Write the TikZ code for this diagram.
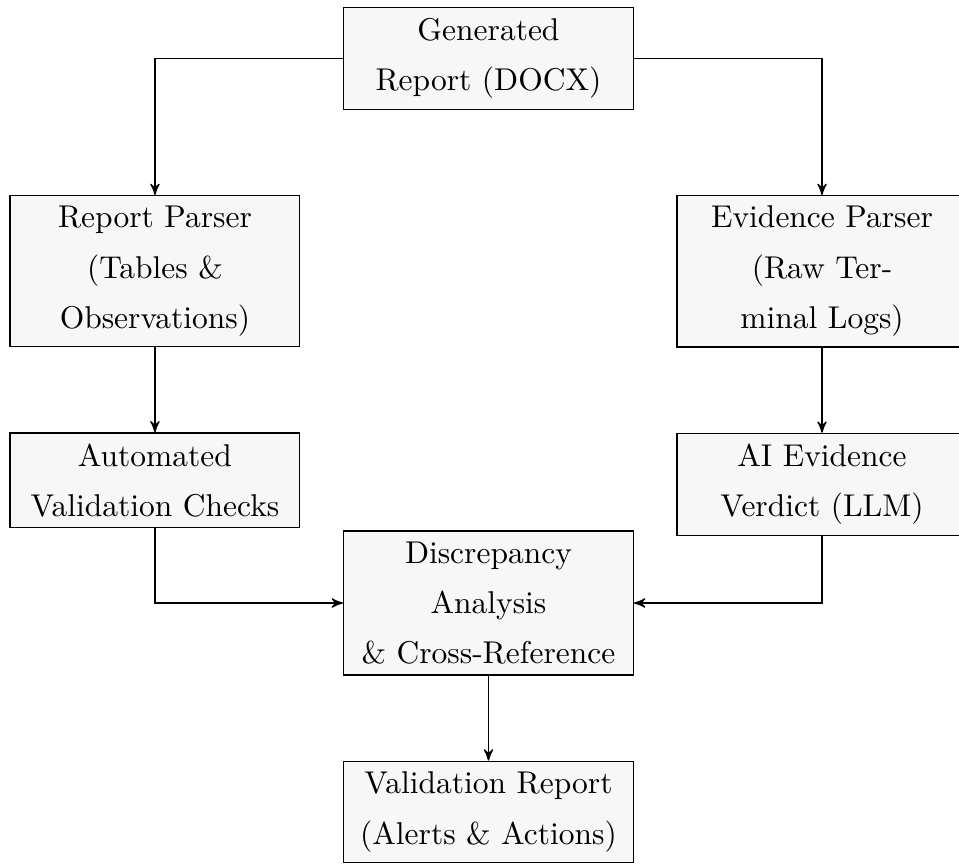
\documentclass[tikz,border=0pt]{standalone}
\usepackage{tikz}
\usetikzlibrary{positioning,arrows}

\begin{document}
\begin{tikzpicture}[thin,
		node distance=27pt and 105.9pt,>=stealth',
		block/.style={rectangle,draw,fill=gray!6,text width=3cm,align=center,
			font=\linespread{1.333}\selectfont}]
   \useasboundingbox (-155.1pt,18.6pt) rectangle (149.4pt,-255.6pt);
   \node [block] (gen)					{Generated\\Report (DOCX)};
   \node [block] (rp)	[below=of gen,xshift=-105.9pt]	{Report Parser (Tables \& Observations)};
   \node [block] (ep)	[below=of gen,xshift=105.9pt]	{Evidence Parser\\(Raw Ter-\\minal Logs)};
   \node [block] (ac)	[below=of rp]			{Automated Validation Checks};
   \node [block] (ai)	[below=of ep]			{AI Evidence Verdict (LLM)};
   \node [block,anchor=north] (dis) at (0,-149.8pt)	{Discrepancy\\Analysis\\\& Cross-Reference};
   \node [block] (val)	[below=of dis]			{Validation Report (Alerts \& Actions)};

   \draw [->] (gen.west) -| (rp.north);
   \draw [->] (gen.east) -| (ep.north);
   \draw [->] (rp) -- (ac);
   \draw [->] (ep) -- (ai);
   \draw [->] (ac.south) |- (dis.west);
   \draw [->] (ai.south) |- (dis.east);
   \draw [->] (dis) -- (val);
\end{tikzpicture}
\end{document}
